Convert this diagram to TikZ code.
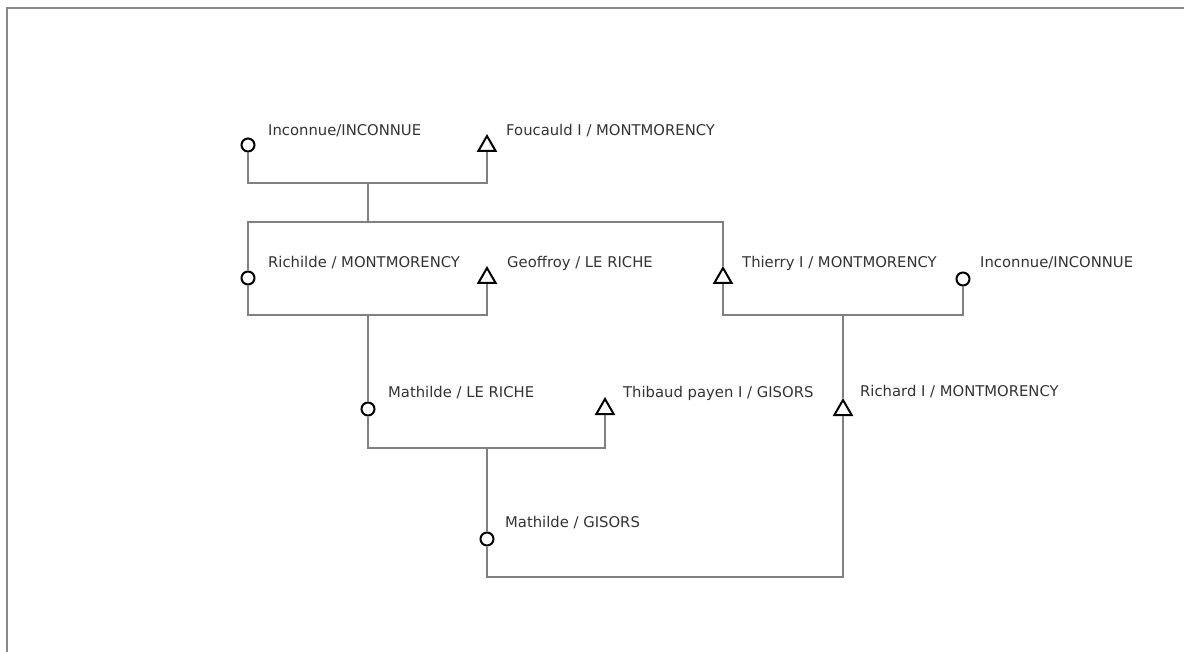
\documentclass[tikz,border=0pt]{standalone}
\usepackage{fontspec}
\setmainfont{DejaVu Sans}
\usetikzlibrary{shapes.geometric}
\definecolor{linkgray}{gray}{0.5}
\definecolor{framegray}{gray}{0.53}
\definecolor{namegray}{gray}{0.2}
\begin{document}
\begin{tikzpicture}[x=1pt, y=-1pt,
    female/.style={circle, draw=black, fill=white, line width=2pt, minimum size=13pt, inner sep=0pt},
    male/.style={regular polygon, regular polygon sides=3, draw=black, fill=white, line width=2pt, minimum size=20pt, inner sep=0pt},
    person/.style={font=\fontsize{14.8}{16}\selectfont, text=namegray, anchor=west, inner sep=0pt},
    link/.style={draw=linkgray, line width=2.3pt}]
    \useasboundingbox (0,0) rectangle (1184,652);
    \draw[framegray, line width=2.6pt] (7,660) -- (7,8) -- (1190,8);

    % Nodes
    \node[female] (inca) at (248,145) {};
    \node[male] (fouc) at (487,146) {};
    \node[female] (rich) at (248,278) {};
    \node[male] (geof) at (487,278) {};
    \node[male] (thie) at (723,278) {};
    \node[female] (incb) at (963,279) {};
    \node[female] (matr) at (368,409) {};
    \node[male] (thib) at (605,409) {};
    \node[male] (ricd) at (843,410) {};
    \node[female] (matg) at (487,539) {};

    % Labels
    \node[person] (linca) at (268,131) {Inconnue/INCONNUE};
    \node[person] (lfouc) at (506,131) {Foucauld I / MONTMORENCY};
    \node[person] (lrich) at (268,263) {Richilde / MONTMORENCY};
    \node[person] (lgeof) at (507,263) {Geoffroy / LE RICHE};
    \node[person] (lthie) at (742,263) {Thierry I / MONTMORENCY};
    \node[person] (lincb) at (980,263) {Inconnue/INCONNUE};
    \node[person] (lmatr) at (388,393) {Mathilde / LE RICHE};
    \node[person] (lthib) at (623,393) {Thibaud payen I / GISORS};
    \node[person] (lricd) at (860,392) {Richard I / MONTMORENCY};
    \node[person] (lmatg) at (505,523) {Mathilde / GISORS};

    % Junctions
    \coordinate (ua) at (368,183);
    \coordinate (sa) at (368,222);
    \coordinate (ub) at (368,315);
    \coordinate (uc) at (843,315);
    \coordinate (ud) at (487,448);
    \coordinate (ue) at (665,577);

    % Links
    \draw[link] (inca) |- (ua) -| (fouc);
    \draw[link] (ua) -- (sa);
    \draw[link] (rich) |- (sa) -| (thie);
    \draw[link] (rich) |- (ub) -| (geof);
    \draw[link] (ub) -- (matr);
    \draw[link] (thie) |- (uc) -| (incb);
    \draw[link] (uc) -- (ricd);
    \draw[link] (matr) |- (ud) -| (thib);
    \draw[link] (ud) -- (matg);
    \draw[link] (matg) |- (ue) -| (ricd);
\end{tikzpicture}
\end{document}
